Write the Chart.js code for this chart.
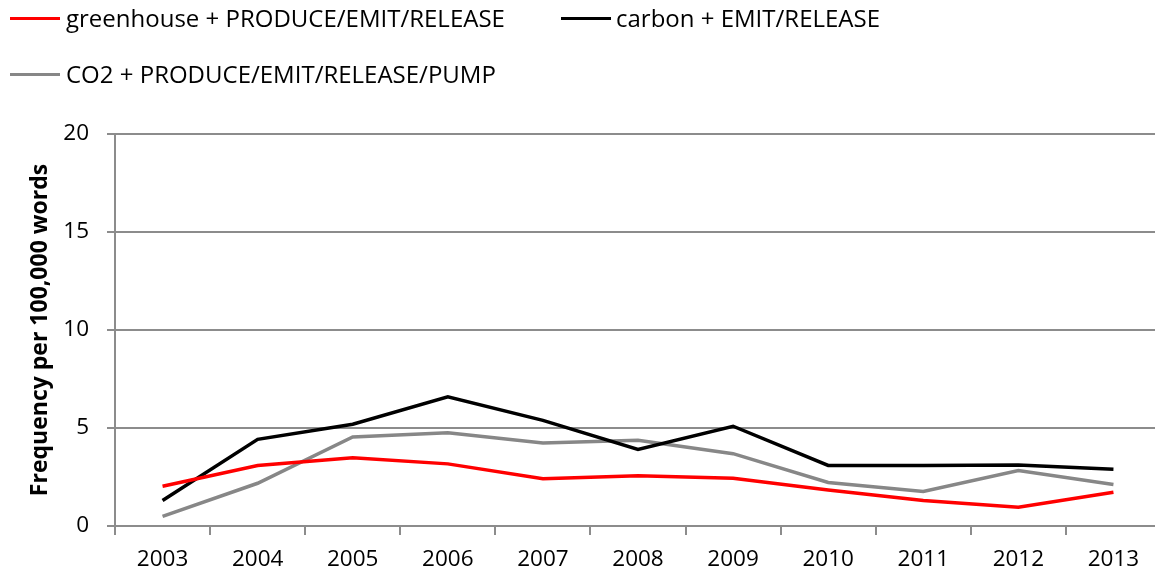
<!DOCTYPE html>
<html>
<head>
<meta charset="utf-8">
<script src="https://cdn.jsdelivr.net/npm/chart.js@4.4.1/dist/chart.umd.min.js"></script>
<style>
  html, body { margin: 0; padding: 0; background: #fff; overflow: hidden; }
  #wrap { position: relative; width: 1175px; height: 573px; }
  #chart { position: absolute; left: 0; top: 0; }
  .leg { position: absolute; font-family: "Open Sans", "Noto Sans", sans-serif; font-size: 24px; color: #000; white-space: nowrap; line-height: 28px; }
  .sw { position: absolute; height: 3px; }
</style>
</head>
<body>
<div id="wrap">
  <canvas id="chart" width="1175" height="573"></canvas>
  <div id="legend"></div>
</div>
<script>
// ---- data ----
const years = ["2003","2004","2005","2006","2007","2008","2009","2010","2011","2012","2013"];
const greenhouse = [2.03, 3.09, 3.48, 3.17, 2.41, 2.56, 2.44, 1.84, 1.30, 0.96, 1.72];
const carbon     = [1.30, 4.42, 5.19, 6.59, 5.39, 3.91, 5.09, 3.09, 3.09, 3.11, 2.90];
const co2        = [0.49, 2.18, 4.54, 4.76, 4.23, 4.37, 3.69, 2.22, 1.76, 2.83, 2.12];
const seriesNames = ["greenhouse + PRODUCE/EMIT/RELEASE", "carbon + EMIT/RELEASE", "CO2 + PRODUCE/EMIT/RELEASE/PUMP"];
const seriesColors = ["#ff0000", "#000000", "#878787"];
const yTicks = [0, 5, 10, 15, 20];
const yTitle = "Frequency per 100,000 words";

// ---- legend (HTML) ----
const legendPos = [
  {sx: 10, tx: 66, y: 18},
  {sx: 561, tx: 616, y: 18},
  {sx: 10, tx: 66, y: 74}
];
const legend = document.getElementById('legend');
seriesNames.forEach((name, i) => {
  const p = legendPos[i];
  const sw = document.createElement('div');
  sw.className = 'sw';
  sw.style.left = p.sx + 'px';
  sw.style.width = '50px';
  sw.style.top = (p.y - 1.5) + 'px';
  sw.style.background = seriesColors[i];
  legend.appendChild(sw);
  const t = document.createElement('div');
  t.className = 'leg';
  t.style.left = p.tx + 'px';
  t.style.top = (p.y - 14) + 'px';
  t.textContent = name;
  legend.appendChild(t);
});

// ---- chart ----
const FONT = '"Open Sans", "Noto Sans", sans-serif';
const GRID = '#8c8c8c';
const seriesData = [greenhouse, carbon, co2];

new Chart(document.getElementById('chart'), {
  type: 'line',
  data: {
    labels: years,
    datasets: seriesData.map((d, i) => ({
      label: seriesNames[i],
      data: d,
      borderColor: seriesColors[i],
      backgroundColor: seriesColors[i],
      borderWidth: 3.5,
      pointRadius: 0,
      tension: 0,
      borderJoinStyle: 'miter',
      borderCapStyle: 'butt'
    }))
  },
  options: {
    responsive: false,
    animation: false,
    layout: { padding: { top: 134, right: 14, bottom: 0, left: 0 } },
    plugins: { legend: { display: false }, tooltip: { enabled: false } },
    scales: {
      x: {
        type: 'category',
        offset: true,
        afterFit: s => { s.height = 47; },
        grid: { offset: true, drawOnChartArea: false, drawTicks: true, tickLength: 9, color: GRID, lineWidth: 2 },
        border: { display: true, color: GRID, width: 2 },
        ticks: { color: '#000', font: { family: FONT, size: 22.5 }, padding: 11, maxRotation: 0, autoSkip: false }
      },
      y: {
        min: 0, max: 20,
        afterFit: s => { s.width = 115; },
        afterBuildTicks: s => { s.ticks = yTicks.map(v => ({ value: v })); },
        grid: { drawOnChartArea: true, drawTicks: true, tickLength: 8, color: GRID, lineWidth: 2 },
        border: { display: true, color: GRID, width: 2 },
        ticks: { color: '#000', font: { family: FONT, size: 22.5 }, padding: 18 },
        title: { display: true, text: yTitle, color: '#000', font: { family: FONT, size: 23, weight: 'bold' }, padding: { top: 27, bottom: 0 } }
      }
    }
  }
});
</script>
</body>
</html>
